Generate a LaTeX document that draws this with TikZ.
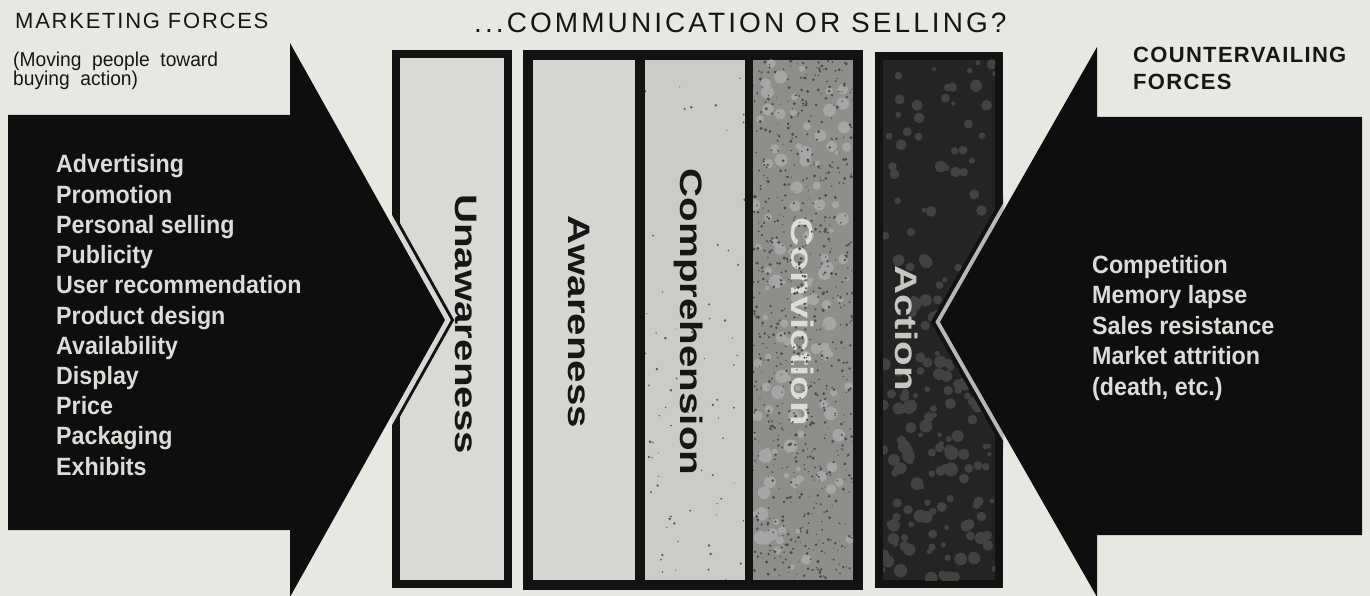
\documentclass[tikz,border=0pt]{standalone}
\usepackage{fontspec}
\setmainfont{Liberation Sans}
\newfontfamily\lblfont[FakeStretch=1.3]{Liberation Sans}
\newfontfamily\listfont[FakeStretch=0.93]{Liberation Sans}
\newfontfamily\headfont[LetterSpace=11]{Liberation Sans}
\newfontfamily\subfont[LetterSpace=8]{Liberation Sans}
\newfontfamily\cntfont[LetterSpace=6]{Liberation Sans}
\newfontfamily\movfont[FakeStretch=0.96]{Liberation Sans}
\definecolor{bgc}{HTML}{E8E8E3}
\definecolor{framec}{HTML}{121212}
\definecolor{unawc}{HTML}{D9D9D6}
\definecolor{awc}{HTML}{D5D5D2}
\definecolor{compc}{HTML}{CBCBC7}
\definecolor{convc}{HTML}{8E8E8B}
\definecolor{actc}{HTML}{242424}
\definecolor{arrowc}{HTML}{0E0E0E}
\definecolor{listc}{HTML}{DCDCD8}
\definecolor{inkc}{HTML}{161616}
\definecolor{gapc}{HTML}{D8D8D5}
\definecolor{blobc}{HTML}{424240}
\newcommand{\myspecks}[8]{%
  \foreach \k in {1,...,#5}{%
    \pgfmathsetmacro\xx{#1+#3*rnd}%
    \pgfmathsetmacro\yy{#2+#4*rnd}%
    \pgfmathsetmacro\rr{#6+#7*rnd}%
    \fill[#8] (\xx,\yy) circle[radius=\rr];}}
\begin{document}
\begin{tikzpicture}[x=1pt,y=-1pt,
  lbl/.style={font=\lblfont\bfseries\fontsize{31}{31}\selectfont, rotate=-90, anchor=base, inner sep=0pt},
  listitem/.style={font=\listfont\bfseries\fontsize{25}{30}\selectfont, text=listc, anchor=base west, inner sep=0pt},
  headtxt/.style={font=\headfont\fontsize{28}{28}\selectfont, text=inkc, anchor=base west, inner sep=0pt},
  sidehead/.style={font=\subfont\fontsize{22}{22}\selectfont, text=inkc, anchor=base west, inner sep=0pt},
  cnthead/.style={font=\cntfont\bfseries\fontsize{22}{22}\selectfont, text=inkc, anchor=base west, inner sep=0pt},
  subtxt/.style={font=\movfont\fontsize{20}{20}\selectfont, text=inkc, anchor=base west, inner sep=0pt},
  arrowfill/.style={fill=arrowc},
  framefill/.style={fill=framec}]
\useasboundingbox (0,0) rectangle (1370,596);
\fill[bgc] (0,0) rectangle (1370,596);

% ---------- stage boxes ----------
\fill[framefill] (392,50) rectangle (512,588);
\fill[unawc] (400,58) rectangle (504,580);
\fill[framefill] (523,50) rectangle (863,590);
\fill[awc] (533,60) rectangle (635,580);
\fill[compc] (645,60) rectangle (745,580);
\fill[convc] (753,60) rectangle (853,580);
\fill[framefill] (875,52) rectangle (1003,588);
\fill[actc] (883,60) rectangle (995,580);

\pgfmathsetseed{7}
\begin{scope}
  \clip (645,60) rectangle (745,580);
  \myspecks{645}{300}{100}{280}{60}{0.5}{1.0}{black!65}
  \myspecks{645}{60}{100}{240}{15}{0.5}{1.0}{black!65}
\end{scope}
\begin{scope}
  \clip (753,60) rectangle (853,580);
  \myspecks{753}{60}{100}{520}{120}{2}{5}{white!65!black}
\end{scope}
\begin{scope}
  \clip (883,60) rectangle (995,580);
  \myspecks{883}{60}{112}{240}{50}{2}{4}{blobc}
  \myspecks{883}{300}{112}{280}{150}{2}{5}{blobc}
\end{scope}

% ---------- stage labels ----------
\node[lbl, text=inkc] (unaw) at (455,324) {Unawareness};
\node[lbl, text=inkc] (aware) at (568,322) {Awareness};
\node[lbl, text=inkc] (compr) at (680,322) {Comprehension};
\node[lbl, text=listc] (convi) at (791,322) {Conviction};
\node[lbl, text=listc!90!black] (actn) at (895,328) {Action};

\begin{scope}
  \clip (753,60) rectangle (853,580);
  \myspecks{753}{60}{100}{520}{800}{0.5}{1.2}{black!70}
\end{scope}

% ---------- arrow cut lines inside boxes ----------
\begin{scope}
  \clip (392,50) rectangle (512,588);
  \draw[line width=16pt, framec, line join=miter] (290,43) -- (445,320) -- (290,597);
  \draw[line width=10pt, gapc, line join=miter] (290,43) -- (445,320) -- (290,597);
\end{scope}
\begin{scope}
  \clip (875,52) rectangle (1003,588);
  \draw[line width=16pt, framec, line join=miter] (1097,47) -- (940,322) -- (1097,597);
  \draw[line width=8pt, gapc!85!black, line join=miter] (1097,47) -- (940,322) -- (1097,597);
\end{scope}

% ---------- arrows ----------
\fill[arrowfill] (8,115) -- (290,115) -- (290,43) -- (445,320) -- (290,597) -- (290,530) -- (8,530) -- cycle;
\fill[arrowfill] (1362,117) -- (1097,117) -- (1097,47) -- (940,322) -- (1097,597) -- (1097,535) -- (1362,535) -- cycle;

% ---------- headings ----------
\node[sidehead] (mkt) at (15,29) {MARKETING FORCES};
\node[subtxt] (mov1) at (13,67) {(Moving\ \ people\ \ toward};
\node[subtxt] (mov2) at (13,86) {buying\ \ action)};
\node[headtxt] (title) at (474,33) {...COMMUNICATION\ OR\ SELLING?};
\node[cnthead] (cnt1) at (1133,63) {COUNTERVAILING};
\node[cnthead] (cnt2) at (1133,90) {FORCES};

% ---------- lists ----------
\foreach \t [count=\i from 0] in {Advertising, Promotion, Personal\ selling, Publicity, User\ recommendation, Product\ design, Availability, Display, Price, Packaging, Exhibits}
  \node[listitem] (m\i) at (56,{173+30.2*\i}) {\t};
\foreach \t [count=\i from 0] in {Competition, Memory\ lapse, Sales\ resistance, Market\ attrition, {(death, etc.)}}
  \node[listitem] (c\i) at (1092,{273+30.5*\i}) {\t};
\end{tikzpicture}
\end{document}
